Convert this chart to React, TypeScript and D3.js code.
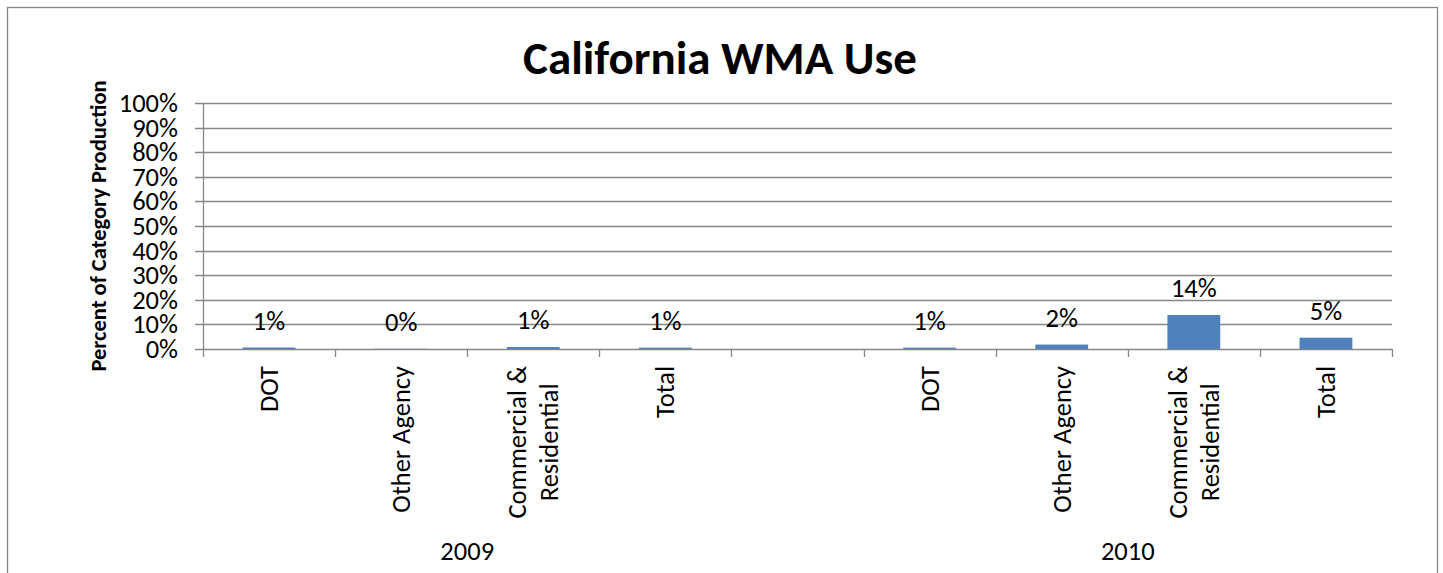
import React, { useEffect, useRef } from "react";
import * as d3 from "d3";

const groups = ["2009", "2010"];
const categories = ["DOT", "Other Agency", "Commercial &\nResidential", "Total"];
const values2009 = [0.6, 0.1, 0.8, 0.55];
const values2010 = [0.55, 1.8, 13.8, 4.6];
const yTicks = [0, 10, 20, 30, 40, 50, 60, 70, 80, 90, 100];
const title = "California WMA Use";
const yTitle = "Percent of Category Production";

const W = 1443;
const H = 573;
const FONT = "Carlito, Calibri, Lato, 'Open Sans', sans-serif";
const GRID = "#868686";
const BAR = "#4F81BD";
const FS = 26.5;

export default function App() {
  const ref = useRef<SVGSVGElement>(null);

  useEffect(() => {
    const svg = d3.select(ref.current);
    svg.selectAll("*").remove();

    const left = 203, right = 1392, top = 103, bottom = 349;
    const slots: { key: number; group: number; cat: number; value: number | null }[] = [];
    values2009.forEach((v, i) => slots.push({ key: slots.length, group: 0, cat: i, value: v }));
    slots.push({ key: slots.length, group: -1, cat: -1, value: null });
    values2010.forEach((v, i) => slots.push({ key: slots.length, group: 1, cat: i, value: v }));

    const band = d3.scaleBand<number>().domain(slots.map((s) => s.key)).range([left, right]).paddingInner(0).paddingOuter(0);
    const x = d3.scaleBand<number>().domain(slots.map((s) => s.key)).range([left, right]).paddingInner(0.6).paddingOuter(0.3);
    const y = d3.scaleLinear().domain([0, 100]).range([bottom, top]);

    svg.append("rect").attr("x", 7.5).attr("y", 7.5).attr("width", 1430).attr("height", 620)
      .attr("fill", "white").attr("stroke", GRID).attr("stroke-width", 1.3);

    svg.append("text").attr("x", 720).attr("y", 58).attr("text-anchor", "middle")
      .attr("dominant-baseline", "central").attr("font-family", FONT).attr("font-weight", "bold")
      .attr("font-size", 47).attr("fill", "#000").text(title);

    svg.append("g").selectAll("line").data(yTicks).join("line")
      .attr("x1", 195).attr("x2", right).attr("y1", (d) => Math.round(y(d)) + 0.5).attr("y2", (d) => Math.round(y(d)) + 0.5)
      .attr("stroke", GRID).attr("stroke-width", 1.3);

    svg.append("line").attr("x1", left + 0.5).attr("x2", left + 0.5).attr("y1", top).attr("y2", bottom)
      .attr("stroke", GRID).attr("stroke-width", 1.3);

    svg.append("g").selectAll("text").data(yTicks).join("text")
      .attr("x", 178).attr("y", (d) => y(d)).attr("text-anchor", "end").attr("dominant-baseline", "central")
      .attr("font-family", FONT).attr("font-size", FS).attr("fill", "#000").text((d) => `${d}%`);

    svg.append("text").attr("transform", `translate(98,226) rotate(-90)`)
      .attr("text-anchor", "middle").attr("dominant-baseline", "central")
      .attr("font-family", FONT).attr("font-weight", "bold").attr("font-size", 22.5).attr("fill", "#000").text(yTitle);

    const tickXs = slots.map((s) => band(s.key)!).concat([right]);
    svg.append("g").selectAll("line").data(tickXs).join("line")
      .attr("x1", (d) => Math.round(d) + 0.5).attr("x2", (d) => Math.round(d) + 0.5).attr("y1", bottom).attr("y2", bottom + 8)
      .attr("stroke", GRID).attr("stroke-width", 1.3);

    const barSlots = slots.filter((s) => s.value !== null);
    svg.append("g").selectAll("rect").data(barSlots).join("rect")
      .attr("x", (d) => x(d.key)!).attr("width", x.bandwidth())
      .attr("y", (d) => y(d.value!)).attr("height", (d) => bottom - y(d.value!))
      .attr("fill", BAR);

    svg.append("g").selectAll("text").data(barSlots).join("text")
      .attr("x", (d) => x(d.key)! + x.bandwidth() / 2).attr("y", (d) => y(d.value!) - 27)
      .attr("text-anchor", "middle").attr("dominant-baseline", "central")
      .attr("font-family", FONT).attr("font-size", FS).attr("fill", "#000")
      .text((d) => `${Math.round(d.value!)}%`);

    const catG = svg.append("g");
    barSlots.forEach((s) => {
      const cx = band(s.key)! + band.bandwidth() / 2;
      const lines = categories[s.cat].split("\n");
      const g = catG.append("g").attr("transform", `translate(${cx},366) rotate(-90)`);
      const lh = 32;
      const texts = lines.map((ln, i) =>
        g.append("text").attr("y", (i - (lines.length - 1) / 2) * lh).attr("dominant-baseline", "central")
          .attr("text-anchor", "middle").attr("font-family", FONT).attr("font-size", FS).attr("fill", "#000").text(ln)
      );
      const maxLen = d3.max(texts, (t) => (t.node() as SVGTextElement).getComputedTextLength()) || 0;
      texts.forEach((t) => t.attr("x", -maxLen / 2));
    });

    groups.forEach((gName, gi) => {
      const gs = slots.filter((s) => s.group === gi);
      const x0 = band(gs[0].key)!;
      const x1 = band(gs[gs.length - 1].key)! + band.bandwidth();
      svg.append("text").attr("x", (x0 + x1) / 2).attr("y", 551).attr("text-anchor", "middle")
        .attr("dominant-baseline", "central").attr("font-family", FONT).attr("font-size", FS).attr("fill", "#000").text(gName);
    });
  }, []);

  return (
    <svg ref={ref} width={W} height={H} style={{ position: "absolute", left: 0, top: 0, background: "white" }} />
  );
}
